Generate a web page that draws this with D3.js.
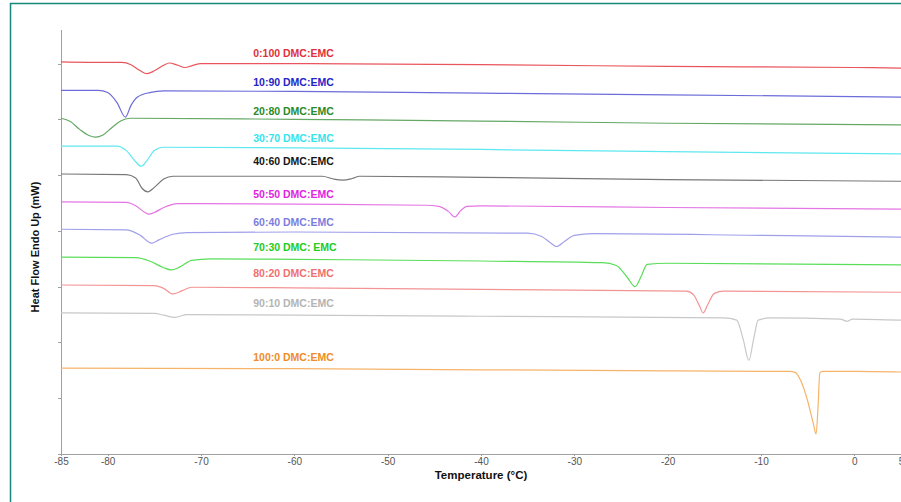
<!DOCTYPE html>
<html>

<head>
    <meta charset="utf-8">
    <title>DSC DMC:EMC</title>
    <script src="https://d3js.org/d3.v7.min.js" charset="utf-8"></script>
    <style type="text/css">
        body {
            margin: 0;
            background: #fff;
            font-family: "Liberation Sans", Arial, sans-serif;
        }

        .axis path,
        .axis line {
            fill: none;
            stroke: #a0a0a0;
            shape-rendering: crispEdges;
        }

        .axis text {
            fill: #555;
            font-size: 10px;
        }

        .line {
            fill: none;
            stroke-width: 1.2px;
        }
    </style>
</head>

<body>
<script type="text/javascript">
    // series names, colours (line / label) and label height (mW)
    var names = ["0:100 DMC:EMC", "10:90 DMC:EMC", "20:80 DMC:EMC", "30:70 DMC:EMC", "40:60 DMC:EMC",
        "50:50 DMC:EMC", "60:40 DMC:EMC", "70:30 DMC: EMC", "80:20 DMC:EMC", "90:10 DMC:EMC", "100:0 DMC:EMC"];
    var lineColors = ["#e9555c", "#6c6cda", "#66a866", "#5ee8ef", "#787878",
        "#e476e4", "#a0a0ea", "#5ade5a", "#f39494", "#c8c8c8", "#f6b46a"];
    var labelColors = ["#e0303c", "#2424c8", "#2a8a2a", "#36e4ec", "#151515",
        "#e024e0", "#7c7ce0", "#22cc22", "#f07070", "#b4b4b4", "#f08c28"];
    var labelY = [7.19, 6.66, 6.15, 5.66, 5.24, 4.66, 4.15, 3.70, 3.24, 2.71, 1.74];

    // x ticks (°C) and y ticks (no labels)
    var xTicks = [-85, -80, -70, -60, -50, -40, -30, -20, -10, 0, 5];
    var yTicks = [0, 1, 2, 3, 4, 5, 6, 7];

    // heat flow curves: [temperature, mW]
    var s0 = [[-85, 7.03], [-80, 7.02], [-78.5, 7.02], [-77.5, 6.98], [-76.5, 6.87], [-75.8, 6.82], [-75, 6.87],
        [-74, 6.97], [-73.4, 7.01], [-72.5, 6.97], [-71.7, 6.93], [-71, 6.96], [-70, 7.0], [-60, 7.0], [-40, 6.98],
        [-20, 6.95], [0, 6.93], [5, 6.92]];
    var s1 = [[-85, 6.52], [-81, 6.52], [-80, 6.48], [-79, 6.3], [-78.1, 6.04], [-77.5, 6.25], [-76.8, 6.4],
        [-75.5, 6.48], [-74, 6.51], [-60, 6.5], [-40, 6.47], [-20, 6.44], [5, 6.4]];
    var s2 = [[-85, 6.02], [-84, 5.96], [-83, 5.82], [-82, 5.71], [-81.3, 5.68], [-80.5, 5.72], [-79.5, 5.86],
        [-78.5, 5.98], [-77.5, 6.02], [-60, 6.0], [-40, 5.97], [-20, 5.93], [5, 5.9]];
    var s3 = [[-85, 5.52], [-79, 5.52], [-78, 5.44], [-77, 5.24], [-76.4, 5.16], [-75.8, 5.26], [-75, 5.44],
        [-74, 5.5], [-60, 5.49], [-40, 5.46], [-20, 5.42], [5, 5.38]];
    var s4 = [[-85, 5.02], [-78, 5.01], [-77, 4.95], [-76.3, 4.76], [-75.7, 4.7], [-75, 4.78], [-74, 4.93],
        [-73, 4.98], [-60, 4.98], [-57, 4.98], [-55.8, 4.93], [-54.8, 4.91], [-53.8, 4.94], [-53, 4.98],
        [-40, 4.96], [-20, 4.92], [5, 4.89]];
    var s5 = [[-85, 4.52], [-78, 4.51], [-77, 4.45], [-76, 4.33], [-75.6, 4.3], [-75, 4.33], [-74, 4.42],
        [-72.5, 4.49], [-60, 4.48], [-46, 4.46], [-44.5, 4.44], [-43.5, 4.35], [-42.8, 4.25], [-42.2, 4.36],
        [-41.5, 4.44], [-40, 4.45], [-20, 4.42], [5, 4.39]];
    var s6 = [[-85, 4.03], [-78, 4.02], [-76.5, 3.92], [-75.3, 3.78], [-74.5, 3.84], [-73, 3.94], [-71.5, 3.97],
        [-60, 3.98], [-35, 3.96], [-33.5, 3.9], [-32.5, 3.78], [-31.9, 3.72], [-31, 3.82], [-30, 3.92],
        [-28, 3.95], [-10, 3.92], [5, 3.89]];
    var s7 = [[-85, 3.53], [-77, 3.52], [-75.5, 3.46], [-74, 3.34], [-73.2, 3.3], [-72.3, 3.35], [-71, 3.47],
        [-69, 3.5], [-60, 3.49], [-40, 3.46], [-27, 3.43], [-25.5, 3.38], [-24.3, 3.16], [-23.5, 3.0],
        [-22.8, 3.2], [-22.2, 3.4], [-20, 3.42], [5, 3.39]];
    var s8 = [[-85, 3.03], [-75, 3.02], [-74, 2.97], [-73, 2.87], [-72, 2.93], [-71, 2.99], [-60, 2.98],
        [-40, 2.95], [-18, 2.92], [-17.2, 2.85], [-16.6, 2.66], [-16.2, 2.53], [-15.7, 2.68], [-15, 2.88],
        [-14, 2.92], [5, 2.9]];
    var s9 = [[-85, 2.53], [-75, 2.52], [-74, 2.49], [-72.8, 2.45], [-71.5, 2.5], [-60, 2.49], [-40, 2.47],
        [-14, 2.44], [-12.6, 2.4], [-11.9, 2.05], [-11.3, 1.68], [-10.8, 2.05], [-10.3, 2.4], [-9, 2.44],
        [-1.5, 2.42], [-0.8, 2.38], [-0.2, 2.42], [5, 2.4]];
    var s10 = [[-85, 1.54], [-60, 1.53], [-40, 1.51], [-20, 1.49], [-7, 1.48], [-6.3, 1.46], [-5.7, 1.3],
        [-5, 0.95], [-4.4, 0.55], [-4.1, 0.36], [-3.9, 0.8], [-3.7, 1.45], [-3.4, 1.48], [0, 1.48], [5, 1.47]];

    var series = [s0, s1, s2, s3, s4, s5, s6, s7, s8, s9, s10];

    var labelTemp = -64.4;

    var margin = {
        top: 29,
        right: 0,
        bottom: 48,
        left: 61
    },
        width = 901 - margin.left - margin.right,
        height = 502 - margin.top - margin.bottom;

    var x = d3.scaleLinear()
        .domain([-85, 5])
        .range([0, width]);

    var y = d3.scaleLinear()
        .domain([0, 7.62])
        .range([height, 0]);

    var root = d3.select("body").append("svg")
        .attr("width", 901)
        .attr("height", 502);

    // teal frame
    root.append("rect")
        .attr("x", 10.5)
        .attr("y", 3.5)
        .attr("width", 900)
        .attr("height", 510)
        .style("fill", "none")
        .style("stroke", "#17877d")
        .style("stroke-width", 1.5);

    var svg = root.append("g")
        .attr("transform", "translate(" + margin.left + "," + margin.top + ")");

    var xAxis = d3.axisBottom(x)
        .tickValues(xTicks)
        .tickSize(2)
        .tickPadding(2)
        .tickSizeOuter(0)
        .tickFormat(function (d) { return String(d); }); // plain hyphen like the original

    var yAxis = d3.axisLeft(y)
        .tickValues(yTicks)
        .tickSize(3)
        .tickSizeOuter(0)
        .tickFormat("");

    svg.append("g")
        .attr("class", "x axis")
        .attr("transform", "translate(0," + height + ")")
        .call(xAxis);

    svg.append("g")
        .attr("class", "y axis")
        .call(yAxis);

    var line = d3.line()
        .x(function (d) { return x(d[0]); })
        .y(function (d) { return y(d[1]); })
        .curve(d3.curveMonotoneX);

    svg.selectAll(".line")
        .data(series)
        .enter().append("path")
        .attr("class", "line")
        .style("stroke", function (d, i) { return lineColors[i]; })
        .attr("d", line);

    svg.selectAll(".label")
        .data(names)
        .enter().append("text")
        .attr("class", "label")
        .attr("x", x(labelTemp))
        .attr("y", function (d, i) { return y(labelY[i]); })
        .attr("dy", "0.35em")
        .style("font-size", "10.5px")
        .style("font-weight", "bold")
        .style("fill", function (d, i) { return labelColors[i]; })
        .text(function (d) { return d; });

    // axis titles
    svg.append("text")
        .attr("x", x(-40))
        .attr("y", height + 21)
        .attr("dy", "0.35em")
        .attr("text-anchor", "middle")
        .style("font-size", "11.5px")
        .style("font-weight", "bold")
        .style("fill", "#111")
        .text("Temperature (°C)");

    svg.append("text")
        .attr("transform", "translate(-26," + (247 - margin.top) + ") rotate(-90)")
        .attr("dy", "0.35em")
        .attr("text-anchor", "middle")
        .style("font-size", "11px")
        .style("font-weight", "bold")
        .style("fill", "#111")
        .text("Heat Flow Endo Up (mW)");
</script>
</body>

</html>
